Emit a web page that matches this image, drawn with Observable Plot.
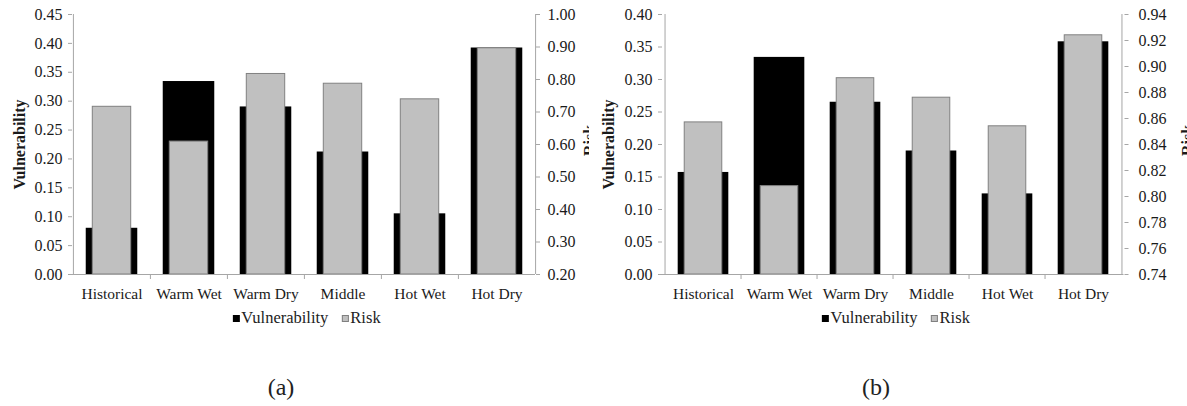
<!DOCTYPE html>
<html>
<head>
<meta charset="utf-8">
<script src="https://cdn.jsdelivr.net/npm/d3@7"></script>
<script src="https://cdn.jsdelivr.net/npm/@observablehq/plot@0.6"></script>
<style>
  html, body { margin: 0; padding: 0; background: #fff; }
  body { font-family: "Liberation Serif", "Tinos", "DejaVu Serif", "Times New Roman", serif; color: #222; }
  #wrap { position: relative; width: 1187px; height: 406px; overflow: hidden; background: #fff; }
  .panel { position: absolute; top: 0; height: 406px; overflow: hidden; }
  .panel svg { overflow: hidden; display: block; }
  .legend { position: absolute; top: 309px; font-size: 16.5px; line-height: 18px; display: flex; align-items: center; white-space: nowrap; transform: translateX(-50%); }
  .sw { display: inline-block; width: 7px; height: 7px; margin-right: 2px; box-sizing: border-box; }
  .gap { display: inline-block; width: 13px; }
  .cap { position: absolute; top: 374px; font-size: 24px; line-height: 27px; transform: translateX(-50%); white-space: nowrap; }
</style>
</head>
<body>
<div id="wrap"></div>
<script>
// ---- data ----
const scenarios = ["Historical", "Warm Wet", "Warm Dry", "Middle", "Hot Wet", "Hot Dry"];
const seriesNames = ["Vulnerability", "Risk"];

// panel (a)
const vulnA = [0.080, 0.334, 0.290, 0.212, 0.105, 0.392];
const riskA = [0.716, 0.609, 0.817, 0.787, 0.739, 0.896];
const vulnTicksA = [0.00, 0.05, 0.10, 0.15, 0.20, 0.25, 0.30, 0.35, 0.40, 0.45];
const riskTicksA = [0.20, 0.30, 0.40, 0.50, 0.60, 0.70, 0.80, 0.90, 1.00];

// panel (b)
const vulnB = [0.157, 0.334, 0.265, 0.190, 0.124, 0.358];
const riskB = [0.857, 0.808, 0.891, 0.876, 0.854, 0.924];
const vulnTicksB = [0.00, 0.05, 0.10, 0.15, 0.20, 0.25, 0.30, 0.35, 0.40];
const riskTicksB = [0.74, 0.76, 0.78, 0.80, 0.82, 0.84, 0.86, 0.88, 0.90, 0.92, 0.94];

const captions = ["(a)", "(b)"];

// ---- drawing ----
const FONT = "'Liberation Serif', 'Tinos', 'DejaVu Serif', 'Times New Roman', serif";
const AXIS = "#a6a6a6";
const TEXT = "#1a1a1a";
const GRAY = "#c0c0c0";
const GRAY_EDGE = "#808080";

function makePanel({vuln, risk, vTicks, rTicks, width, marginLeft, marginRight, rightPad}) {
  const height = 305, marginTop = 14, marginBottom = 31;
  const vMax = vTicks[vTicks.length - 1];
  const rMin = rTicks[0], rMax = rTicks[rTicks.length - 1];
  const toV = r => (r - rMin) / (rMax - rMin) * vMax;      // secondary axis -> primary scale
  const toR = v => rMin + v / vMax * (rMax - rMin);
  const rows = scenarios.map((s, i) => ({s, v: vuln[i], rv: toV(risk[i])}));
  const bw = (width - marginLeft - marginRight) / scenarios.length;
  const frameH = height - marginTop - marginBottom;
  const tickDown = -vMax * 5 / frameH;   // 5px below the baseline, in y units
  return Plot.plot({
    width, height, marginTop, marginBottom, marginLeft, marginRight,
    style: {fontFamily: FONT, fontSize: "16px", color: TEXT, background: "transparent", overflow: "hidden"},
    x: {domain: scenarios, padding: 0, axis: null, label: null},
    y: {domain: [0, vMax], axis: null, label: null},
    marks: [
      Plot.barY(rows, {x: "s", y: "v", fill: "#000", insetLeft: bw * 0.165, insetRight: bw * 0.165}),
      Plot.barY(rows, {x: "s", y: "rv", fill: GRAY, stroke: GRAY_EDGE, strokeWidth: 1, insetLeft: bw * 0.25, insetRight: bw * 0.25}),
      Plot.ruleY([0], {stroke: AXIS}),
      Plot.ruleX([scenarios[0]], {x: d => d, dx: -bw / 2, stroke: AXIS}),
      Plot.ruleX([scenarios[scenarios.length - 1]], {x: d => d, dx: bw / 2, stroke: AXIS}),
      Plot.ruleX(scenarios.slice(1), {x: d => d, dx: -bw / 2, y1: 0, y2: tickDown, stroke: AXIS}),
      Plot.axisX({tickSize: 0, tickPadding: 13, color: TEXT, label: null, fontSize: 15.5}),
      Plot.axisY(vTicks, {anchor: "left", tickSize: 4, tickPadding: 6, stroke: AXIS, color: TEXT, label: null, tickFormat: d => d.toFixed(2)}),
      Plot.axisY(rTicks.map(toV), {anchor: "right", tickSize: 4, tickPadding: rightPad, stroke: AXIS, color: TEXT, label: null, tickFormat: v => toR(v).toFixed(2)}),
      Plot.text([seriesNames[0]], {text: d => d, frameAnchor: "left", textAnchor: "middle", dx: 19 - marginLeft, rotate: -90, fontWeight: "bold", fontSize: 16, fill: TEXT}),
      Plot.text([seriesNames[1]], {text: d => d, frameAnchor: "right", textAnchor: "middle", dx: marginRight - 6, dy: -4, rotate: -90, lineAnchor: "top", fontWeight: "bold", fontSize: 16, fill: TEXT})
    ]
  });
}

const panels = [
  {left: 0, width: 589, marginLeft: 72, marginRight: 54, rightPad: 8, vuln: vulnA, risk: riskA, vTicks: vulnTicksA, rTicks: riskTicksA, cap: captions[0], capX: 281},
  {left: 589, width: 598, marginLeft: 73, marginRight: 63.5, rightPad: 10.5, vuln: vulnB, risk: riskB, vTicks: vulnTicksB, rTicks: riskTicksB, cap: captions[1], capX: 876}
];

const wrap = document.getElementById("wrap");
for (const p of panels) {
  const div = document.createElement("div");
  div.className = "panel";
  div.style.left = p.left + "px";
  div.style.width = p.width + "px";
  div.appendChild(makePanel(p));
  wrap.appendChild(div);

  // legend
  const lg = document.createElement("div");
  lg.className = "legend";
  lg.style.left = (p.left + p.marginLeft + (p.width - p.marginLeft - p.marginRight) / 2 + 3) + "px";
  lg.innerHTML =
    `<span class="sw" style="background:#000"></span><span>${seriesNames[0]}</span>` +
    `<span class="gap"></span>` +
    `<span class="sw" style="background:${GRAY};border:1px solid ${GRAY_EDGE}"></span><span>${seriesNames[1]}</span>`;
  wrap.appendChild(lg);

  // caption
  const cp = document.createElement("div");
  cp.className = "cap";
  cp.style.left = p.capX + "px";
  cp.textContent = p.cap;
  wrap.appendChild(cp);
}
</script>
</body>
</html>
